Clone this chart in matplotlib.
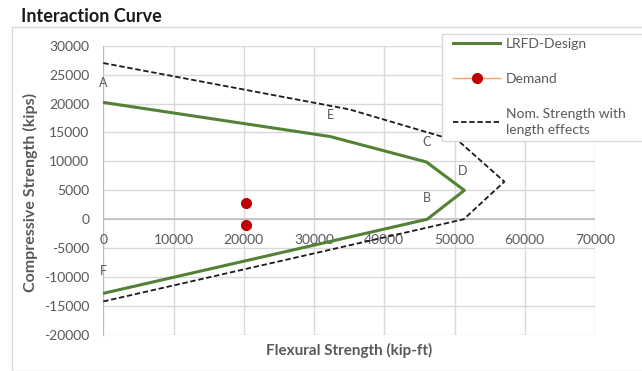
import matplotlib
matplotlib.use("Agg")
import matplotlib.pyplot as plt
from matplotlib.lines import Line2D
from matplotlib.patches import Rectangle

plt.rcParams['font.family'] = ['Lato', 'DejaVu Sans']

# LRFD design curve (A -> E -> C -> D -> B -> F)
lrfd_m = [0, 32300, 46000, 51400, 46100, 0]
lrfd_p = [20200, 14300, 9900, 5000, 0, -12800]

# Nominal strength with length effects
nom_m = [0, 35000, 50700, 57100, 51300, 0]
nom_p = [27000, 19000, 13400, 6500, 0, -14200]

# Demand points
dem_m = [20300, 20300]
dem_p = [2900, -1000]

# Point labels
pt_labels = ["A", "E", "C", "D", "B", "F"]
pt_m = [0, 32300, 46000, 51200, 46100, 0]
pt_p = [23500, 18000, 13300, 8400, 3700, -9000]

xticks = [0, 10000, 20000, 30000, 40000, 50000, 60000, 70000]
yticks = [30000, 25000, 20000, 15000, 10000, 5000, 0, -5000, -10000, -15000, -20000]

gray = "#595959"
fig = plt.figure(figsize=(6.42, 3.71), dpi=100)
fig.patches.append(Rectangle((12/642, 0), 1, 1 - 27/371, transform=fig.transFigure,
                             fill=False, edgecolor="#d9d9d9", linewidth=1.0, clip_on=False))
ax = fig.add_axes([103.3/642, 1 - 335/371, (595 - 103.3)/642, (335 - 45.7)/371])

ax.set_xlim(0, 70000)
ax.set_ylim(-20000, 30000)
ax.set_xticks(xticks)
ax.set_yticks(yticks)
ax.grid(True, color="#d9d9d9", linewidth=1.0)
ax.set_axisbelow(True)
for s in ["top", "right", "bottom"]:
    ax.spines[s].set_visible(False)
ax.spines["left"].set_color("#bfbfbf")
ax.axhline(0, color="#bfbfbf", linewidth=1.2, zorder=1)
ax.tick_params(length=0, labelsize=10, colors=gray)
ax.tick_params(axis="y", pad=10)
ax.set_yticklabels([str(v) for v in yticks])
ax.set_xticklabels(["" for v in xticks])
for v in xticks:
    ax.text(v, -2500, str(v), ha="center", va="top", fontsize=10, color=gray)

ax.plot(lrfd_m, lrfd_p, color="#538135", linewidth=2.2, zorder=3)
ax.plot(nom_m, nom_p, color="#1a1a1a", linewidth=1.3, linestyle=(0, (3, 1.5)), zorder=3)
ax.plot(dem_m, dem_p, linestyle="none", marker="o", markersize=7,
        color="#c00000", zorder=4)

for t, m, p in zip(pt_labels, pt_m, pt_p):
    ax.text(m, p, t, ha="center", va="center", fontsize=9, color=gray)

# legend frame (extends past the right edge as in the reference)
fig.patches.append(Rectangle((442/642, 1 - 141/371), 220/642, 107/371,
                             transform=fig.transFigure, facecolor="white",
                             edgecolor="#d9d9d9", linewidth=1.0, zorder=5))

handles = [
    Line2D([], [], color="#538135", linewidth=2.2),
    Line2D([], [], color="#f4a460", linewidth=1, marker="o", markersize=7,
           markerfacecolor="#c00000", markeredgecolor="#c00000"),
    Line2D([], [], color="#1a1a1a", linewidth=1.3, linestyle=(0, (3, 1.5))),
]
leg = fig.legend(handles, ["LRFD-Design", "Demand", "Nom. Strength with\nlength effects"],
                 loc="upper left", bbox_to_anchor=(451/642, 1 - 36/371),
                 frameon=False, fontsize=10, labelcolor=gray, handlelength=3.4,
                 labelspacing=1.65, borderpad=0.15, handletextpad=0.4,
                 borderaxespad=0)
leg.set_zorder(6)
for t in leg.get_texts():
    t.set_linespacing(1.4)

fig.text(21/642, 1 - 17/371, "Interaction Curve", fontsize=13, fontweight="bold",
         color="#1a1a1a", ha="left", va="center")
fig.text(30/642, 1 - 192/371, "Compressive Strength (kips)", fontsize=11.5,
         fontweight="bold", color=gray, rotation=90, ha="center", va="center")
fig.text(349/642, 1 - 350/371, "Flexural Strength (kip-ft)", fontsize=11,
         fontweight="bold", color=gray, ha="center", va="center")

fig.savefig("out.png", dpi=100)
